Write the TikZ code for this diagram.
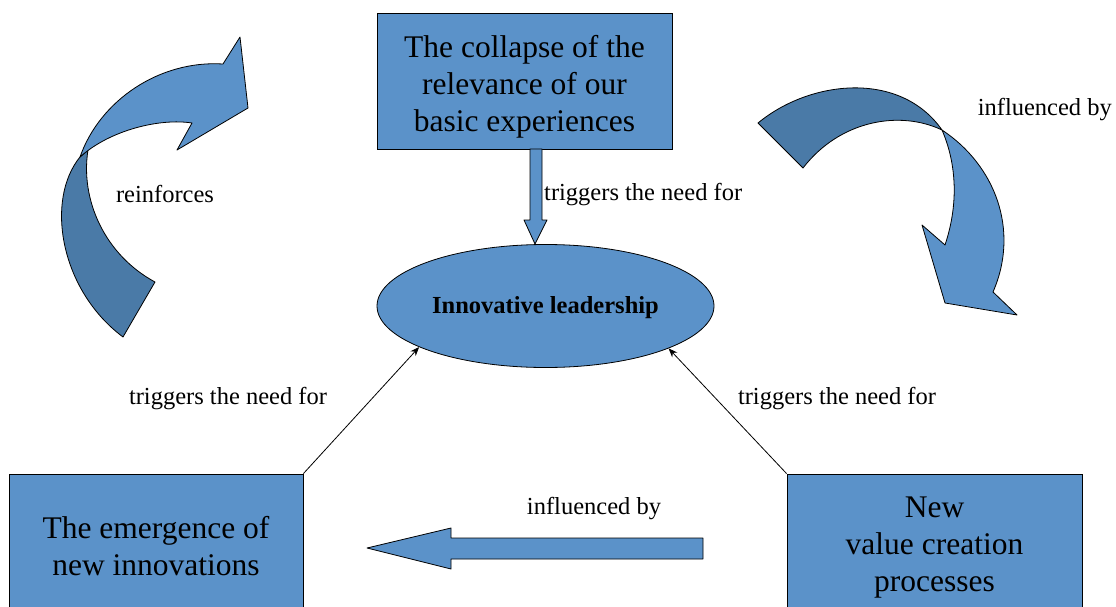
\documentclass[tikz,border=0pt]{standalone}
\usepackage{fontspec}
\setmainfont{Liberation Serif}
\usetikzlibrary{shapes.geometric,arrows.meta}
\definecolor{lightb}{RGB}{91,146,201}
\definecolor{darkb}{RGB}{74,122,167}
\tikzset{
  blockbox/.style={draw=black, line width=0.8pt, fill=lightb, inner sep=0pt},
  boxtext/.style={font=\fontsize{31.5}{37}\selectfont, align=center, inner sep=0pt},
  lbl/.style={font=\fontsize{24.5}{28}\selectfont, inner sep=0pt},
  thinarrow/.style={draw=black, line width=0.8pt, -{Stealth[length=9pt,width=7pt]}},
  shapeline/.style={draw=black, line width=0.8pt, line join=round}
}
\begin{document}
\begin{tikzpicture}[x=1pt,y=-1pt]
\clip (0,0) rectangle (1116,607);
\fill[white] (0,0) rectangle (1116,607);

% boxes
\node[blockbox, minimum width=295pt, minimum height=136pt] (top) at (524.5,81) {};
\node[boxtext] (toptext) at (524.5,87) {The collapse of the\\relevance of our\\basic experiences};

\node[blockbox, minimum width=294pt, minimum height=166pt] (bl) at (156,557) {};
\node[boxtext] (bltext) at (156,546) {The emergence of\\new innovations};

\node[blockbox, minimum width=295pt, minimum height=166pt] (br) at (934.5,557) {};
\node[boxtext] (brtext) at (934.5,548) {New\\value creation\\processes};

% ellipse
\node[ellipse, blockbox, minimum width=337pt, minimum height=123pt] (ell) at (545.5,306) {};
\node[font=\bfseries\fontsize{24.5}{28}\selectfont, inner sep=0pt] (elltext) at (545.5,308) {Innovative leadership};

% block arrow from top box to ellipse
\draw[shapeline, fill=lightb] (530,149) -- (542,149) -- (542,220) -- (547,220) -- (535,244) -- (524,220) -- (530,220) -- cycle;

% thin arrows
\draw[thinarrow] (bl.north east) -- (ell.198);
\draw[thinarrow] (br.north west) -- (ell.341);

% bottom block arrow
\draw[shapeline, fill=lightb] (703,538) -- (451,538) -- (451,528) -- (367,548) -- (451,569) -- (451,559) -- (703,559) -- cycle;

% left curved arrow (reinforces)
\draw[shapeline, fill=darkb] (123,337) .. controls (60,290) and (45,200) .. (80,157) -- (88,150) .. controls (80,200) and (105,255) .. (155,282) -- cycle;
\draw[shapeline, fill=lightb] (80,157) .. controls (100,100) and (160,60) .. (223,64) -- (240,37) -- (248,108) -- (177,150) -- (192,123) .. controls (160,118) and (110,130) .. (80,157) -- cycle;

% right curved arrow (influenced by)
\draw[shapeline, fill=darkb] (758,123) .. controls (810,80) and (900,70) .. (942,130) .. controls (900,110) and (840,120) .. (803,168) -- cycle;
\draw[shapeline, fill=lightb] (942,130) .. controls (995,165) and (1020,230) .. (993,292) -- (1017,315) -- (945,303) -- (922,225) -- (945,245) .. controls (960,200) and (955,160) .. (942,130) -- cycle;

% labels
\node[lbl, anchor=west] (l1) at (544,195) {triggers the need for};
\node[lbl] (l2) at (165,194) {reinforces};
\node[lbl, anchor=east] (l3) at (1112,110) {influenced by};
\node[lbl] (l4) at (228,399) {triggers the need for};
\node[lbl] (l5) at (837,399) {triggers the need for};
\node[lbl] (l6) at (594,509) {influenced by};
\end{tikzpicture}
\end{document}
